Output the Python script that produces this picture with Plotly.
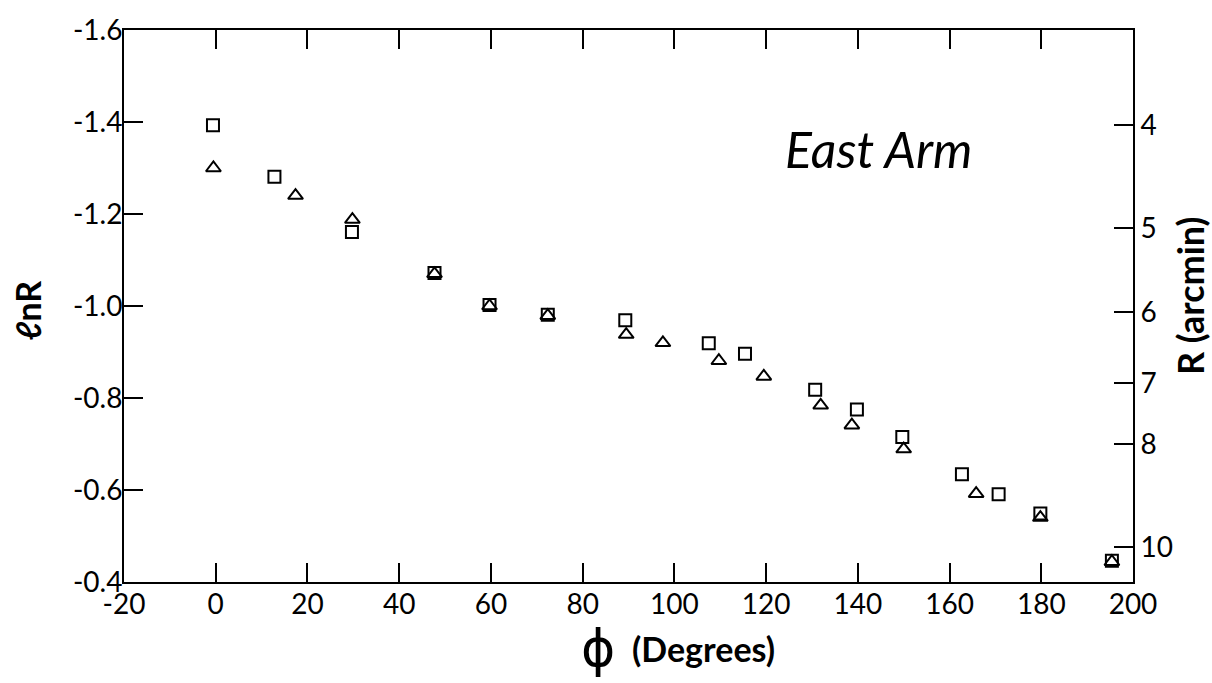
import math
import plotly.graph_objects as go

# ---- data ----
sq_phi = [-0.6, 12.8, 29.7, 47.7, 59.7, 72.4, 89.3, 107.5, 115.4, 130.7, 139.8, 149.7, 162.7, 170.7, 179.8, 195.4]
sq_lnR = [-1.393, -1.281, -1.161, -1.072, -1.002, -0.981, -0.969, -0.919, -0.896, -0.818, -0.775, -0.715, -0.634, -0.591, -0.549, -0.446]

tri_phi = [-0.5, 17.4, 29.8, 47.7, 59.7, 72.4, 89.5, 97.5, 109.7, 119.5, 131.9, 138.7, 150.0, 165.8, 179.8, 195.4]
tri_lnR = [-1.300, -1.240, -1.188, -1.070, -1.000, -0.979, -0.938, -0.920, -0.881, -0.847, -0.784, -0.741, -0.689, -0.592, -0.540, -0.444]

x_ticks = [-20, 0, 20, 40, 60, 80, 100, 120, 140, 160, 180, 200]
x_ticktext = ["-20", "0", "20", "40", "60", "80", "100", "120", "140", "160", "180", "200"]
y_ticks = [-1.6, -1.4, -1.2, -1.0, -0.8, -0.6, -0.4]
y_ticktext = ["-1.6", "-1.4", "-1.2", "-1.0", "-0.8", "-0.6", "-0.4"]
r_ticks = [4, 5, 6, 7, 8, 10]
r_ticktext = ["4", "5", "6", "7", "8", "10"]

X_RANGE = [-20, 200]
Y_RANGE = [-0.4, -1.6]          # reversed: -1.6 at top
LN_OFFSET = 2.779               # lnR = ln(R[arcmin]) - LN_OFFSET

FONT = "Lato"
BLACK = "black"

fig = go.Figure()
fig.add_trace(go.Scatter(
    x=sq_phi, y=sq_lnR, mode="markers",
    marker=dict(symbol="square-open", size=12, color=BLACK, line=dict(width=2, color=BLACK)),
    showlegend=False, name="square"))
fig.add_trace(go.Scatter(
    x=tri_phi, y=tri_lnR, mode="markers",
    marker=dict(symbol="triangle-up-open", size=13, color=BLACK, line=dict(width=2, color=BLACK)),
    showlegend=False, name="triangle"))
# right-hand R axis (log scale tied to lnR)
fig.add_trace(go.Scatter(x=[None], y=[None], yaxis="y2", showlegend=False, hoverinfo="skip"))

r_bottom = math.exp(Y_RANGE[0] + LN_OFFSET)
r_top = math.exp(Y_RANGE[1] + LN_OFFSET)

tickfont = dict(family=FONT, size=28, color=BLACK)
fig.update_layout(
    width=1212, height=683,
    margin=dict(l=124, r=79, t=18, b=101),
    paper_bgcolor="white", plot_bgcolor="white",
    xaxis=dict(range=X_RANGE, tickvals=x_ticks, ticktext=x_ticktext, ticks="inside", ticklen=19,
               tickwidth=2, tickcolor=BLACK, showline=True, linewidth=2, linecolor=BLACK,
               mirror="ticks", showgrid=False, zeroline=False, tickfont=tickfont,
               ticklabeloverflow="allow", ticklabelstandoff=-4),
    yaxis=dict(range=Y_RANGE, tickvals=y_ticks, ticktext=y_ticktext, ticks="inside", ticklen=19,
               tickwidth=2, tickcolor=BLACK, showline=True, linewidth=2, linecolor=BLACK,
               showgrid=False, zeroline=False, tickfont=tickfont,
               ticklabeloverflow="allow", ticklabelstandoff=-6),
    yaxis2=dict(overlaying="y", side="right", type="log",
                range=[math.log10(r_bottom), math.log10(r_top)],
                tickvals=r_ticks, ticktext=r_ticktext, ticks="inside", ticklen=19, tickwidth=2,
                tickcolor=BLACK, showline=True, linewidth=2, linecolor=BLACK,
                showgrid=False, zeroline=False, tickfont=tickfont, ticklabeloverflow="allow"),
)

ann = dict(xref="paper", yref="paper", showarrow=False, xanchor="center", yanchor="middle")
fig.add_annotation(text="<i>East Arm</i>", x=0.748, y=0.785,
                   font=dict(family=FONT, size=50, color=BLACK), **ann)
fig.add_annotation(text="\u03d5", x=0.4698, y=-0.12,
                   font=dict(family="DejaVu Sans", size=52, color=BLACK), **ann)
fig.add_annotation(text="<b>(Degrees)</b>", x=0.5748, y=-0.121,
                   font=dict(family=FONT, size=34, color=BLACK), **ann)
fig.add_annotation(text="<b>\u2113nR</b>", x=-0.095, y=0.491, textangle=-90,
                   font=dict(family=FONT, size=34, color=BLACK), **ann)
fig.add_annotation(text="<b>R (arcmin)</b>", x=1.0565, y=0.518, textangle=-90,
                   font=dict(family=FONT, size=36, color=BLACK), **ann)

fig.write_html("out.html")
